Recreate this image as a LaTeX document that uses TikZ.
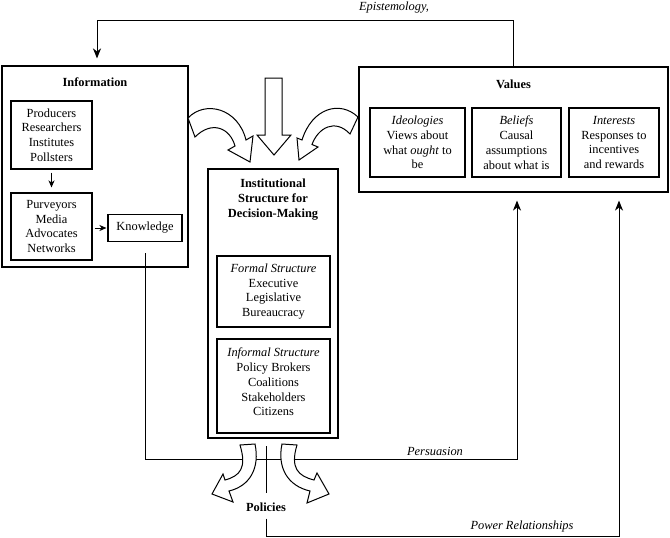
\documentclass[tikz,border=0pt]{standalone}
\usepackage{fontspec}
\setmainfont{Liberation Serif}
\usetikzlibrary{arrows.meta}
\newcommand\myfs{\fontsize{12.4}{14.8}\selectfont}
\begin{document}
\begin{tikzpicture}[x=1pt,y=-1pt,
  box/.style={draw, line width=1.1pt, inner sep=0pt},
  txt/.style={align=center, inner sep=0pt, font=\myfs},
  btxt/.style={align=center, inner sep=0pt, font=\myfs\bfseries},
  itxt/.style={align=center, inner sep=0pt, font=\myfs\itshape},
  conn/.style={line width=1pt},
  bigtip/.style={-{Stealth[length=10pt,width=8pt,inset=3pt]}},
  smalltip/.style={-{Stealth[length=7pt,width=6pt,inset=2pt]}},
  blockarrow/.style={draw, line width=1pt, fill=white, line join=miter}
]
\useasboundingbox (0,0) rectangle (670,538);

% Information
\node[box, minimum width=186pt, minimum height=201pt] (info) at (95,166.5) {};
\node[btxt] (infot) at (95,82) {Information};
\node[box, txt, minimum width=81pt, minimum height=68pt] (prod) at (51.5,135) {Producers\\Researchers\\Institutes\\Pollsters};
\node[box, txt, minimum width=81pt, minimum height=67pt] (purv) at (51.5,226.5) {Purveyors\\Media\\Advocates\\Networks};
\node[box, txt, minimum width=74pt, minimum height=27pt] (know) at (145,228) {Knowledge};
\draw[conn, smalltip, shorten <=3pt, shorten >=5pt] (prod.south) -- (purv.north);
\draw[conn, smalltip, shorten <=2pt, shorten >=1pt] (purv.east |- know) -- (know.west);

% Institutional structure
\node[box, minimum width=130pt, minimum height=269pt] (inst) at (273,303.5) {};
\node[btxt] (instt) at (273,199.5) {Institutional\\Structure for\\Decision-Making};
\node[box, txt, minimum width=113pt, minimum height=71pt] (formal) at (273.5,291.5) {\textit{Formal Structure}\\Executive\\Legislative\\Bureaucracy};
\node[box, minimum width=113pt, minimum height=94pt] (informal) at (273.5,386) {};
\node[txt] (informalt) at (273.5,382) {\textit{Informal Structure}\\Policy Brokers\\Coalitions\\Stakeholders\\Citizens};

% Values
\node[box, minimum width=309pt, minimum height=125pt] (val) at (513.5,129.5) {};
\node[btxt] (valt) at (513.5,84) {Values};
\node[box, txt, minimum width=95pt, minimum height=69pt] (ideo) at (417.5,142.5) {\textit{Ideologies}\\Views about\\what \textit{ought} to\\be};
\node[box, txt, minimum width=89pt, minimum height=69pt] (bel) at (516.5,142.5) {\textit{Beliefs}\\Causal\\assumptions\\about what is};
\node[box, txt, minimum width=90pt, minimum height=69pt] (inter) at (614,142.5) {\textit{Interests}\\Responses to\\incentives\\and rewards};

% Policies
\node[btxt] (pol) at (266,507) {Policies};

% Connectors
\coordinate (epi) at (97,20);
\draw[conn, bigtip, shorten >=7pt] (val.north) |- (epi) -- (info.north -| epi);
\node[itxt] (epit) at (394,8) {Epistemology,};

\coordinate (pers) at (517,459);
\draw[conn, bigtip, shorten <=11pt, shorten >=8pt] (know.south) |- (pers) -- (val.south -| pers);
\node[itxt] (perst) at (435,451) {Persuasion};

\coordinate (pow) at (619,536);
\draw[conn, bigtip, shorten <=7pt, shorten >=8pt] (pol.south) |- (pow) -- (val.south -| pow);
\node[itxt] (powt) at (522,527) {Power Relationships};

\coordinate (pa) at (266,446);
\coordinate (pb) at (266,493);
\draw[conn] (pa) -- (pb);

% Block arrows (top)
\draw[blockarrow] (265,78) -- (282,78) -- (282,135) -- (291,135) -- (274,155) -- (257,135) -- (265,135) -- cycle;
\draw[blockarrow] (188,118) .. controls (205,100) and (238,108) .. (246,140) -- (253,136) -- (250,162) -- (228,150) -- (235,146) .. controls (230,128) and (212,120) .. (195,137) -- cycle;
\draw[blockarrow] (358,117) .. controls (340,100) and (312,108) .. (302,140) -- (297,138) -- (299,160) -- (318,147) -- (312,144.5) .. controls (318,128) and (335,118) .. (350,134) -- cycle;

% Block arrows (policies)
\draw[blockarrow] (240,445) .. controls (247,468) and (240,476) .. (225,480) -- (223,474) -- (212,494) -- (233,502) -- (229,491) .. controls (250,486) and (260,468) .. (255,444) -- cycle;
\draw[blockarrow] (297,445) .. controls (290,468) and (298,476) .. (314,480) -- (317,473) -- (329,494) -- (307,503) -- (310,491) .. controls (288,486) and (277,468) .. (282,444) -- cycle;
\end{tikzpicture}
\end{document}
